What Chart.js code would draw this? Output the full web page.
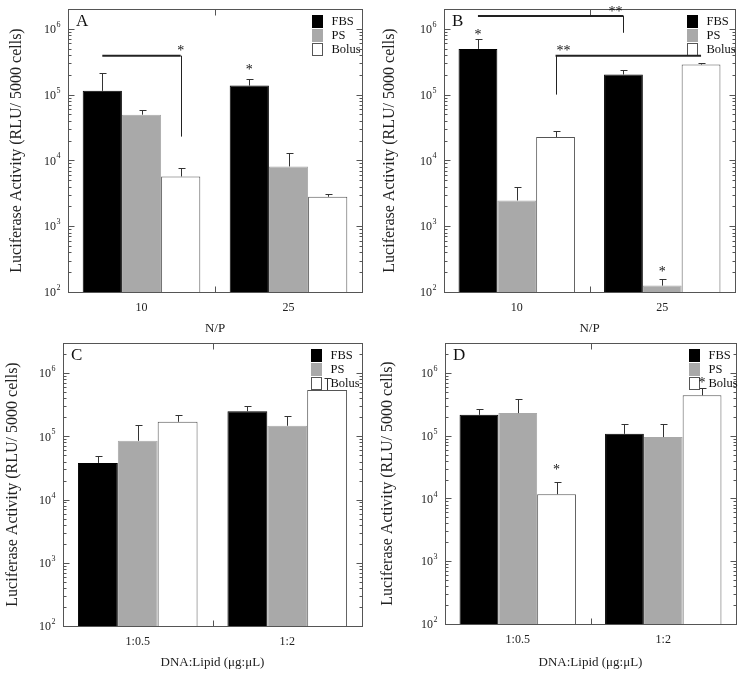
<!DOCTYPE html>
<html><head><meta charset="utf-8">
<script src="https://cdn.jsdelivr.net/npm/chart.js@4/dist/chart.umd.min.js"></script>
<style>
html,body{margin:0;padding:0;background:#fff;}
#wrap{position:relative;width:746px;height:677px;background:#fff;}
canvas{position:absolute;}
</style></head><body>
<div id="wrap">
<canvas id="cA" width="373" height="338" style="left:0;top:0"></canvas>
<canvas id="cB" width="373" height="338" style="left:373px;top:0"></canvas>
<canvas id="cC" width="373" height="339" style="left:0;top:338px"></canvas>
<canvas id="cD" width="373" height="339" style="left:373px;top:338px"></canvas>
</div>
<script>
// ---------- data ----------
const seriesNames = ['FBS', 'PS', 'Bolus'];
const npCategories = ['10', '25'];
const lipidCategories = ['1:0.5', '1:2'];
const yTickExponents = [2, 3, 4, 5, 6];
const yTitle = 'Luciferase Activity (RLU/ 5000 cells)';

// Panel A (N/P)
const aFBS = [1.14e5, 1.37e5];
const aPS = [4.95e4, 8.1e3];
const aBolus = [5.7e3, 2.8e3];
const aFBSErr = [2.1e5, 1.75e5];
const aPSErr = [5.9e4, 1.3e4];
const aBolusErr = [7.6e3, 3.14e3];
const aStars = [{cat: 1, series: 0, value: 2.6e5, text: '*'}];
const aBrackets = [{from: [0, 0], to: [0, 2], level: 3.9e5, dropEnd: 2.3e4, text: '*', labelAt: 'end'}];

// Panel B (N/P)
const bFBS = [4.95e5, 2.02e5];
const bPS = [2.46e3, 125];
const bBolus = [2.27e4, 2.86e5];
const bFBSErr = [7.05e5, 2.35e5];
const bPSErr = [4.0e3, 158];
const bBolusErr = [2.75e4, 3.03e5];
const bStars = [{cat: 0, series: 0, value: 8.7e5, text: '*'}, {cat: 1, series: 1, value: 224, text: '*'}];
const bBrackets = [
  {from: [0, 0], to: [1, 0], level: 1.56e6, dropEnd: 8.7e5, text: '**', labelAt: 'end'},
  {from: [0, 2], to: [1, 2], level: 3.9e5, dropStart: 1.0e5, text: '**', labelAt: 'start'}
];

// Panel C (DNA:Lipid)
const cFBS = [3.8e4, 2.5e5];
const cPS = [8.5e4, 1.47e5];
const cBolus = [1.7e5, 5.4e5];
const cFBSErr = [4.95e4, 3.05e5];
const cPSErr = [1.53e5, 2.1e5];
const cBolusErr = [2.2e5, 8.4e5];
const cStars = [];
const cBrackets = [];

// Panel D (DNA:Lipid)
const dFBS = [2.15e5, 1.07e5];
const dPS = [2.29e5, 9.5e4];
const dBolus = [1.17e4, 4.4e5];
const dFBSErr = [2.65e5, 1.53e5];
const dPSErr = [3.9e5, 1.53e5];
const dBolusErr = [1.8e4, 5.85e5];
const dStars = [{cat: 0, series: 2, value: 3.1e4, text: '*'}, {cat: 1, series: 2, value: 7.7e5, text: '*'}];
const dBrackets = [];

// ---------- styles ----------
const FONT = 'Liberation Serif';
const seriesColors = ['#000000', '#a9a9a9', '#ffffff'];
const seriesBorders = ['#000000', '#a9a9a9', '#555555'];

const decor = {
  id: 'decor',
  afterDatasetsDraw(chart) {
    const o = chart.options.plugins.decor;
    const ctx = chart.ctx, ca = chart.chartArea, ys = chart.scales.y, xs = chart.scales.x;
    ctx.save();
    // error bars (upper whisker only)
    o.errors.forEach((errs, di) => {
      const meta = chart.getDatasetMeta(di);
      errs.forEach((e, j) => {
        const bar = meta.data[j];
        const ye = Math.round(ys.getPixelForValue(e)) + 0.5;
        const bx = Math.round(bar.x) + 0.5;
        ctx.strokeStyle = '#333'; ctx.lineWidth = 1;
        ctx.beginPath();
        ctx.moveTo(bx, bar.y); ctx.lineTo(bx, ye);
        ctx.moveTo(bx - 3, ye); ctx.lineTo(bx + 4, ye);
        ctx.stroke();
      });
    });
    // frame
    const L = Math.round(ca.left) + 0.5, R = Math.round(ca.right) + 0.5, T = Math.round(ca.top) + 0.5, B = Math.round(ca.bottom) + 0.5;
    ctx.strokeStyle = '#555'; ctx.lineWidth = 1;
    ctx.strokeRect(L, T, R - L, B - T);
    // log ticks both sides
    ctx.beginPath();
    const e0 = Math.floor(Math.log10(ys.min)), e1 = Math.ceil(Math.log10(ys.max));
    for (let e = e0; e <= e1; e++) {
      for (let m = 1; m <= 9; m++) {
        const v = m * Math.pow(10, e);
        if (v < ys.min || v > ys.max) continue;
        const py = Math.round(ys.getPixelForValue(v)) + 0.5;
        const len = m === 1 ? 6 : 3;
        ctx.moveTo(L, py); ctx.lineTo(L + len, py);
        ctx.moveTo(R, py); ctx.lineTo(R - len, py);
      }
    }
    // middle x tick
    const mx = Math.round((xs.getPixelForValue(0) + xs.getPixelForValue(1)) / 2) + 0.5;
    ctx.moveTo(mx, B); ctx.lineTo(mx, B - 6);
    ctx.moveTo(mx, T); ctx.lineTo(mx, T + 6);
    ctx.stroke();
    // y tick labels 10^k
    ctx.fillStyle = '#222';
    yTickExponents.forEach(k => {
      const py = ys.getPixelForValue(Math.pow(10, k));
      ctx.font = '8px ' + FONT;
      const w2 = ctx.measureText(String(k)).width;
      const xe = ca.left - 8 - w2;
      ctx.textBaseline = 'middle';
      ctx.textAlign = 'left';
      ctx.fillText(String(k), xe + 0.5, py - 4);
      ctx.font = '12px ' + FONT;
      ctx.textAlign = 'right';
      ctx.fillText('10', xe, py + 1);
    });
    // legend
    ctx.font = '12.5px ' + FONT;
    ctx.textAlign = 'left'; ctx.textBaseline = 'middle';
    seriesNames.forEach((n, i) => {
      const cy = ca.top + 12 + i * 14;
      const bx = Math.round(ca.right - o.legendOffset) + 0.5;
      ctx.fillStyle = seriesColors[i];
      ctx.fillRect(bx, Math.round(cy - 6) + 0.5, 10, 12);
      ctx.strokeStyle = i === 2 ? '#555' : seriesColors[i];
      ctx.strokeRect(bx, Math.round(cy - 6) + 0.5, 10, 12);
      ctx.fillStyle = '#111';
      ctx.fillText(n, bx + 19, cy + 1);
    });
    // panel letter
    ctx.font = '17px ' + FONT;
    ctx.fillStyle = '#111';
    ctx.fillText(o.letter, ca.left + 8, ca.top + 13);
    // stars
    ctx.font = '14px ' + FONT;
    ctx.textAlign = 'center';
    o.stars.forEach(s => {
      const bar = chart.getDatasetMeta(s.series).data[s.cat];
      ctx.fillText(s.text, bar.x, ys.getPixelForValue(s.value) + 3);
    });
    // brackets
    o.brackets.forEach(b => {
      const x1 = chart.getDatasetMeta(b.from[1]).data[b.from[0]].x;
      const x2 = chart.getDatasetMeta(b.to[1]).data[b.to[0]].x;
      const yl = ys.getPixelForValue(b.level);
      ctx.strokeStyle = '#222';
      ctx.lineWidth = 2;
      ctx.beginPath(); ctx.moveTo(x1, yl); ctx.lineTo(x2, yl); ctx.stroke();
      ctx.lineWidth = 1;
      if (b.dropEnd) { ctx.beginPath(); ctx.moveTo(Math.round(x2) + 0.5, yl); ctx.lineTo(Math.round(x2) + 0.5, ys.getPixelForValue(b.dropEnd)); ctx.stroke(); }
      if (b.dropStart) { ctx.beginPath(); ctx.moveTo(Math.round(x1) + 0.5, yl); ctx.lineTo(Math.round(x1) + 0.5, ys.getPixelForValue(b.dropStart)); ctx.stroke(); }
      const shift = (b.text.length - 1) * 8;
      const lx = b.labelAt === 'end' ? x2 - shift : x1 + shift;
      ctx.fillText(b.text, lx, yl - 4);
    });
    ctx.restore();
  }
};

function makePanel(id, cfg) {
  const datasets = cfg.values.map((vals, i) => ({
    label: seriesNames[i], data: vals,
    backgroundColor: seriesColors[i], borderColor: seriesBorders[i], borderWidth: 1,
    categoryPercentage: 0.8, barPercentage: 1.0
  }));
  return new Chart(document.getElementById(id), {
    type: 'bar',
    data: {labels: cfg.categories, datasets},
    options: {
      responsive: false, animation: false,
      layout: {padding: {left: 0, top: cfg.top, right: cfg.right, bottom: 0}},
      plugins: {
        legend: {display: false}, tooltip: {enabled: false},
        decor: {errors: cfg.errors, letter: cfg.letter, stars: cfg.stars, brackets: cfg.brackets, legendOffset: cfg.legendOffset}
      },
      scales: {
        x: {
          grid: {display: false, drawTicks: false}, border: {display: false},
          ticks: {font: {family: FONT, size: 12}, color: '#222', padding: 9},
          title: {display: true, text: cfg.xTitle, font: {family: FONT, size: 13}, color: '#222', padding: {top: 0, bottom: cfg.xTitlePad}},
          afterFit: s => { s.height = cfg.xHeight; }
        },
        y: {
          type: 'logarithmic', min: 100, max: cfg.yMax, bounds: 'data',
          grid: {display: false, drawTicks: false}, border: {display: false},
          ticks: {display: false},
          title: {display: true, text: yTitle, font: {family: FONT, size: 16}, color: '#222', padding: {top: cfg.yTitlePad, bottom: 0}},
          afterFit: s => { s.width = cfg.left; }
        }
      }
    },
    plugins: [decor]
  });
}

makePanel('cA', {categories: npCategories, values: [aFBS, aPS, aBolus], errors: [aFBSErr, aPSErr, aBolusErr],
  stars: aStars, brackets: aBrackets, letter: 'A', xTitle: 'N/P', yMax: 2.0e6, legendOffset: 50,
  left: 68, right: 11, top: 9, xHeight: 46, xTitlePad: 2, yTitlePad: 7});
makePanel('cB', {categories: npCategories, values: [bFBS, bPS, bBolus], errors: [bFBSErr, bPSErr, bBolusErr],
  stars: bStars, brackets: bBrackets, letter: 'B', xTitle: 'N/P', yMax: 2.0e6, legendOffset: 48,
  left: 71, right: 11, top: 9, xHeight: 46, xTitlePad: 2, yTitlePad: 7});
makePanel('cC', {categories: lipidCategories, values: [cFBS, cPS, cBolus], errors: [cFBSErr, cPSErr, cBolusErr],
  stars: cStars, brackets: cBrackets, letter: 'C', xTitle: 'DNA:Lipid (\u03bcg:\u03bcL)', yMax: 3.0e6, legendOffset: 51,
  left: 63, right: 11, top: 5, xHeight: 51, xTitlePad: 7, yTitlePad: 3});
makePanel('cD', {categories: lipidCategories, values: [dFBS, dPS, dBolus], errors: [dFBSErr, dPSErr, dBolusErr],
  stars: dStars, brackets: dBrackets, letter: 'D', xTitle: 'DNA:Lipid (\u03bcg:\u03bcL)', yMax: 3.0e6, legendOffset: 47,
  left: 72, right: 10, top: 5, xHeight: 53, xTitlePad: 7, yTitlePad: 5});
</script>
</body></html>
